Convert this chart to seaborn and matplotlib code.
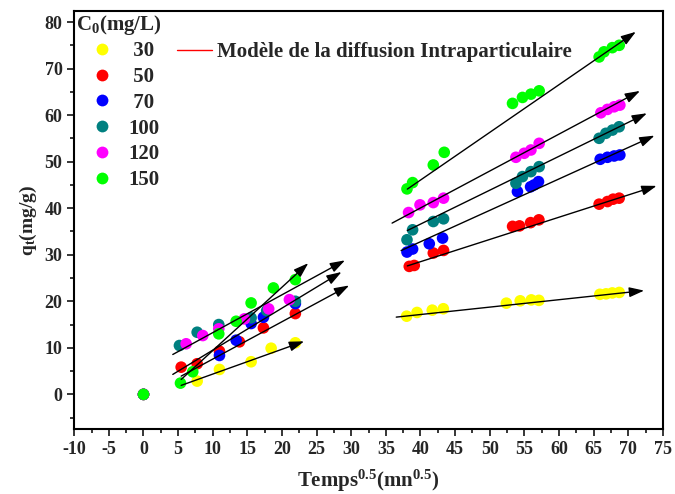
import numpy as np
import pandas as pd
import matplotlib
matplotlib.use('Agg')
import matplotlib.pyplot as plt
from matplotlib.lines import Line2D
from matplotlib.ticker import MultipleLocator
import seaborn as sns

# C0 series: sqrt(t) (mn^0.5) and qt (mg/g)
concentrations = ['30', '50', '70', '100', '120', '150']
colors = ['#FFFF00', '#FF0000', '#0000FF', '#008080', '#FF00FF', '#00FF00']

x_30 = [0, 7.75, 10.97, 15.54, 18.43, 21.93, 38.0, 39.5, 41.7, 43.3, 52.4, 54.4, 56.0, 57.1, 65.9, 66.8, 67.7, 68.7]
q_30 = [0, 2.85, 5.36, 7.01, 9.92, 11.08, 16.8, 17.6, 18.1, 18.4, 19.6, 20.1, 20.3, 20.2, 21.5, 21.6, 21.8, 21.9]

x_50 = [0, 5.44, 7.75, 10.97, 13.85, 17.32, 21.93, 38.38, 39.1, 41.85, 43.33, 53.3, 54.3, 55.9, 57.1, 65.8, 67.0, 67.82, 68.69]
q_50 = [0, 5.85, 6.58, 9.28, 11.29, 14.29, 17.36, 27.5, 27.7, 30.37, 30.93, 36.1, 36.2, 36.9, 37.5, 40.87, 41.43, 41.94, 42.16]

x_70 = [0, 10.97, 13.38, 15.54, 17.32, 21.93, 38.05, 38.86, 41.27, 43.19, 54.0, 55.9, 56.4, 57.04, 65.95, 67.0, 67.97, 68.79]
q_70 = [0, 8.36, 11.64, 15.22, 16.57, 19.5, 30.58, 31.23, 32.36, 33.58, 43.57, 44.6, 45.0, 45.71, 50.51, 50.94, 51.22, 51.44]

x_100 = [0, 5.19, 7.75, 10.87, 15.54, 17.79, 21.93, 38.05, 38.86, 41.85, 43.33, 53.78, 54.73, 55.95, 57.14, 65.8, 66.77, 67.72, 68.69]
q_100 = [0, 10.5, 13.35, 15.0, 16.44, 18.0, 20.0, 33.22, 35.36, 37.14, 37.72, 45.37, 46.79, 47.86, 48.93, 55.02, 56.09, 56.79, 57.5]

x_120 = [0, 6.16, 8.56, 10.87, 14.57, 18.08, 21.07, 38.28, 39.93, 41.85, 43.33, 53.78, 54.98, 55.95, 57.14, 66.05, 67.0, 67.97, 68.79]
q_120 = [0, 10.87, 12.64, 14.08, 16.22, 18.37, 20.36, 39.07, 40.72, 41.21, 42.16, 50.94, 51.8, 52.51, 53.94, 60.5, 61.23, 61.79, 62.15]

x_150 = [0, 5.34, 7.11, 10.87, 13.38, 15.54, 18.76, 21.93, 38.05, 38.86, 41.85, 43.43, 53.29, 54.73, 55.95, 57.14, 65.8, 66.5, 67.7, 68.7]
q_150 = [0, 2.42, 4.86, 13.01, 15.71, 19.65, 22.87, 24.65, 44.15, 45.5, 49.29, 52.01, 62.52, 63.8, 64.51, 65.22, 72.5, 73.6, 74.5, 75.0]

# intraparticle diffusion fits (start -> arrow tip)
fit_x0 = [5.44, 4.23, 4.23, 5.44, 5.44, 36.5, 38.1, 37.2, 38.1, 35.9, 38.1]
fit_y0 = [1.93, 8.57, 4.29, 3.92, 3.21, 16.6, 27.6, 30.9, 35.2, 36.8, 44.1]
fit_x1 = [23.2, 29.1, 28.6, 29.7, 23.8, 72.3, 74.1, 73.8, 72.7, 71.7, 71.1]
fit_y1 = [11.4, 28.8, 26.3, 23.4, 28.2, 22.3, 44.8, 55.6, 60.4, 65.2, 77.9]

xs = [x_30, x_50, x_70, x_100, x_120, x_150]
qs = [q_30, q_50, q_70, q_100, q_120, q_150]
df = pd.concat([pd.DataFrame({'x': x, 'q': q, 'C0': c}) for x, q, c in zip(xs, qs, concentrations)],
               ignore_index=True)

sns.set_style('ticks')
plt.rcParams['font.family'] = ['Liberation Serif', 'DejaVu Serif']
plt.rcParams['font.weight'] = 'bold'
plt.rcParams['axes.unicode_minus'] = False
plt.rcParams['mathtext.fontset'] = 'custom'
plt.rcParams['mathtext.rm'] = 'Liberation Serif:bold'
plt.rcParams['mathtext.bf'] = 'Liberation Serif:bold'
plt.rcParams['mathtext.it'] = 'Liberation Serif:bold:italic'
plt.rcParams['mathtext.default'] = 'bf'

fig, ax = plt.subplots(figsize=(6.75, 4.94), dpi=100)
fig.subplots_adjust(left=0.110, right=0.982, bottom=0.131, top=0.978)

sns.scatterplot(data=df, x='x', y='q', hue='C0', hue_order=concentrations,
                palette=dict(zip(concentrations, colors)), s=70, linewidth=0,
                legend=False, ax=ax, zorder=3)

for a, b, c, d in zip(fit_x0, fit_y0, fit_x1, fit_y1):
    ax.annotate('', xy=(c, d), xytext=(a, b), zorder=4,
                arrowprops=dict(arrowstyle='-|>,head_length=0.6,head_width=0.2',
                                color='black', lw=1, mutation_scale=15,
                                shrinkA=0, shrinkB=0))

ax.set_xlim(-10, 75)
ax.set_ylim(-7.5, 82.4)
ax.xaxis.set_major_locator(MultipleLocator(5))
ax.xaxis.set_minor_locator(MultipleLocator(2.5))
ax.yaxis.set_major_locator(MultipleLocator(10))
ax.yaxis.set_minor_locator(MultipleLocator(5))
ax.tick_params(which='major', direction='out', length=5, width=1.3, labelsize=13)
ax.tick_params(which='minor', direction='out', length=3, width=1.3)
for sp in ax.spines.values():
    sp.set_visible(True)
    sp.set_linewidth(1.5)
    sp.set_color('black')

ax.set_xlabel('Temps$^{0.5}$(mn$^{0.5}$)', fontsize=15, fontweight='bold', labelpad=7)
ax.set_ylabel('q$_{t}$(mg/g)', fontsize=14, fontweight='bold', labelpad=4)

handles = [Line2D([], [], marker='o', ls='', color=c, markersize=8.5, markeredgewidth=0) for c in colors]
labels = [' ' + c if len(c) == 2 else c for c in concentrations]
leg1 = ax.legend(handles, labels, title='C$_0$(mg/L)', loc='upper left',
                 bbox_to_anchor=(0.0, 1.0), frameon=False, alignment='left',
                 prop={'weight': 'bold', 'size': 15}, title_fontproperties={'weight': 'bold', 'size': 15},
                 handlelength=2.5, handletextpad=0.0, labelspacing=0.28,
                 borderpad=0.1, borderaxespad=0.0)
leg1._legend_box.sep = 3
ax.add_artist(leg1)
ax.legend([Line2D([], [], color='red', lw=1)], ['Modèle de la diffusion Intraparticulaire'],
          loc='center left', bbox_to_anchor=(0.1745, 0.901), frameon=False,
          prop={'weight': 'bold', 'size': 15}, handlelength=1.68, handletextpad=0.24,
          borderpad=0, borderaxespad=0)

plt.savefig('out.png', dpi=100)
